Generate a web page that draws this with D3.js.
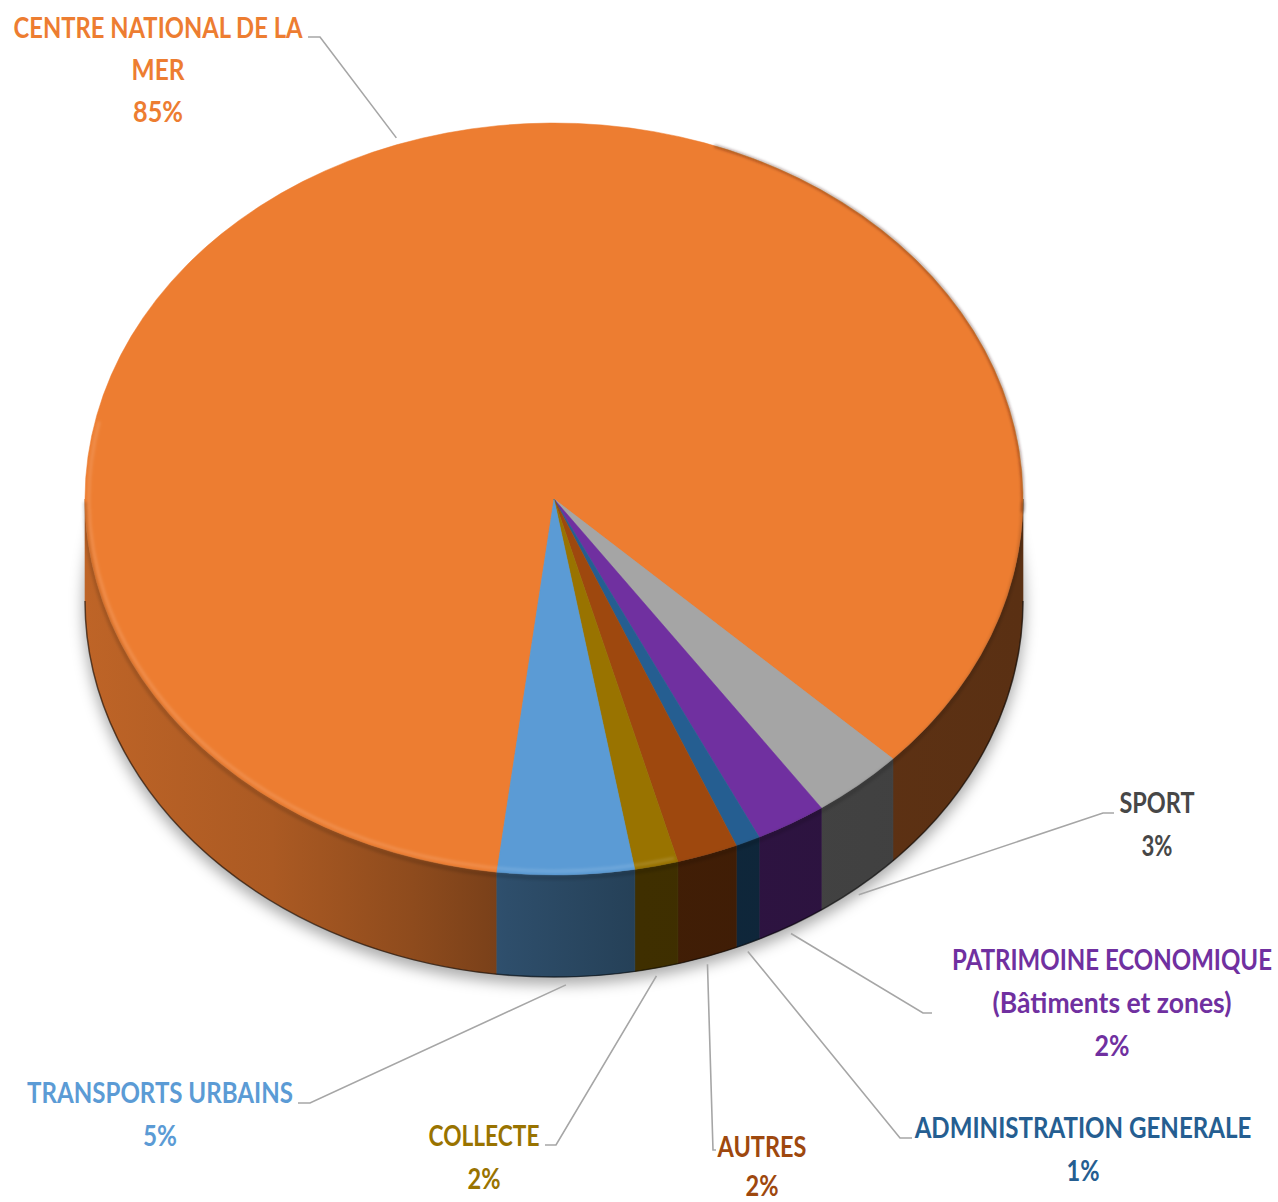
<!DOCTYPE html>
<html>
<head>
<meta charset="utf-8">
<script src="https://cdn.jsdelivr.net/npm/d3@7"></script>
<style>
  html, body { margin: 0; padding: 0; background: #ffffff; }
  svg { display: block; }
  text { font-family: Lato, "Open Sans", "DejaVu Sans Condensed", sans-serif; font-weight: bold; }
</style>
</head>
<body>
<svg id="chart" width="1278" height="1202"></svg>
<script>
// ---------------- DATA ----------------
const categories = [
  "CENTRE NATIONAL DE LA MER",
  "SPORT",
  "PATRIMOINE ECONOMIQUE (Bâtiments et zones)",
  "ADMINISTRATION GENERALE",
  "AUTRES",
  "COLLECTE",
  "TRANSPORTS URBAINS"
];
const labelLines = [
  ["CENTRE NATIONAL DE LA", "MER"],
  ["SPORT"],
  ["PATRIMOINE ECONOMIQUE", "(Bâtiments et zones)"],
  ["ADMINISTRATION GENERALE"],
  ["AUTRES"],
  ["COLLECTE"],
  ["TRANSPORTS URBAINS"]
];
const values = [85.2, 3.2, 2.45, 0.85, 2.1, 1.5, 4.7];
const sliceColors = ["#ED7D31", "#A5A5A5", "#7030A0", "#255E91", "#9E480E", "#997300", "#5B9BD5"];
const labelColors = ["#ED7D31", "#474747", "#7030A0", "#255E91", "#9E480E", "#997300", "#5B9BD5"];

// ---------------- LAYOUT ----------------
const cx = 554, cy = 499, rx = 469, ry = 376, depth = 102;
const rotationDeg = 187;
const labelLayout = [
  { x: 158,  y: 38,   lh: 42, widths: [289, 53, 50],  elbow: [320, 37],   stub: 308 },
  { x: 1157, y: 813,  lh: 43, widths: [75, 31],       elbow: [1103, 813], stub: 1114 },
  { x: 1112, y: 970,  lh: 43, widths: [320, 239, 35], elbow: [923, 1013], stub: 932 },
  { x: 1083, y: 1138, lh: 43, widths: [337, 33],      elbow: [900, 1138], stub: 912 },
  { x: 762,  y: 1157, lh: 39, widths: [89, 33],       elbow: [713, 1150], stub: 716 },
  { x: 484,  y: 1146, lh: 43, widths: [111, 33],      elbow: [556, 1145], stub: 545 },
  { x: 160,  y: 1103, lh: 43, widths: [266, 34],      elbow: [310, 1103], stub: 298 }
];

const svg = d3.select("#chart");
const defs = svg.append("defs");

const rot = rotationDeg * Math.PI / 180;
const pie = d3.pie().sort(null).value(d => d).startAngle(rot).endAngle(rot + 2 * Math.PI);
const arcs = pie(values);
const total = d3.sum(values);

const px = a => cx + rx * Math.sin(a);
const py = a => cy - ry * Math.cos(a);

// filters
const blur = defs.append("filter").attr("id", "shadowBlur").attr("x", "-20%").attr("y", "-20%").attr("width", "140%").attr("height", "140%");
blur.append("feGaussianBlur").attr("stdDeviation", 7);
const soft = defs.append("filter").attr("id", "soft").attr("x", "-10%").attr("y", "-10%").attr("width", "120%").attr("height", "120%");
soft.append("feGaussianBlur").attr("stdDeviation", 1.4);

// side gradients per slice (horizontal shading)
const shadeStops = [[0, 0.80], [0.2, 0.72], [0.35, 0.60], [0.45, 0.50], [0.59, 0.41], [1, 0.38]];
sliceColors.forEach((c, i) => {
  const g = defs.append("linearGradient").attr("id", "side" + i)
    .attr("gradientUnits", "userSpaceOnUse")
    .attr("x1", cx - rx).attr("x2", cx + rx).attr("y1", 0).attr("y2", 0);
  const base = d3.rgb(c);
  shadeStops.forEach(([o, f]) => {
    g.append("stop").attr("offset", o)
      .attr("stop-color", d3.rgb(base.r * f, base.g * f, base.b * f).formatHex());
  });
});

// drop shadow under the pie
svg.append("ellipse")
  .attr("cx", cx).attr("cy", cy + depth + 6).attr("rx", rx + 2).attr("ry", ry + 2)
  .attr("fill", "rgba(0,0,0,0.32)")
  .attr("filter", "url(#shadowBlur)");

// side walls: portion of each slice between 90° and 270° (front half)
const gSide = svg.append("g");
arcs.forEach((d, i) => {
  [0, 2 * Math.PI].forEach(off => {
    const lo = Math.max(d.startAngle, Math.PI / 2 + off);
    const hi = Math.min(d.endAngle, 3 * Math.PI / 2 + off);
    if (hi - lo <= 1e-6) return;
    const p = `M${px(lo)},${py(lo)} A${rx},${ry} 0 0 1 ${px(hi)},${py(hi)}
      L${px(hi)},${py(hi) + depth} A${rx},${ry} 0 0 0 ${px(lo)},${py(lo) + depth} Z`;
    gSide.append("path").attr("d", p).attr("fill", `url(#side${i})`)
      .attr("stroke", `url(#side${i})`).attr("stroke-width", 0.6);
  });
});
// dark bottom edge
svg.append("path")
  .attr("d", `M${px(Math.PI / 2)},${py(Math.PI / 2) + depth} A${rx},${ry} 0 0 1 ${px(3 * Math.PI / 2)},${py(3 * Math.PI / 2) + depth}`)
  .attr("fill", "none").attr("stroke", "rgba(0,0,0,0.55)").attr("stroke-width", 1.5);

// top faces
const gTop = svg.append("g");
arcs.forEach((d, i) => {
  const large = (d.endAngle - d.startAngle) > Math.PI ? 1 : 0;
  const p = `M${cx},${cy} L${px(d.startAngle)},${py(d.startAngle)}
    A${rx},${ry} 0 ${large} 1 ${px(d.endAngle)},${py(d.endAngle)} Z`;
  gTop.append("path").attr("d", p).attr("fill", sliceColors[i])
    .attr("stroke", sliceColors[i]).attr("stroke-width", 0.5);
});

// bevel highlight along front/left rim
const hrx = rx - 4, hry = ry - 4;
const hx = a => cx + hrx * Math.sin(a), hy = a => cy - hry * Math.cos(a);
const hA0 = 165 * Math.PI / 180, hA1 = 282 * Math.PI / 180;
svg.append("path")
  .attr("d", `M${hx(hA0)},${hy(hA0)} A${hrx},${hry} 0 0 1 ${hx(hA1)},${hy(hA1)}`)
  .attr("fill", "none").attr("stroke", "rgba(255,255,255,0.16)").attr("stroke-width", 2.5)
  .attr("filter", "url(#soft)");
// darker rim on the upper right
const dA0 = 20 * Math.PI / 180, dA1 = 92 * Math.PI / 180;
svg.append("path")
  .attr("d", `M${px(dA0)},${py(dA0)} A${rx},${ry} 0 0 1 ${px(dA1)},${py(dA1)}`)
  .attr("fill", "none").attr("stroke", "rgba(60,25,0,0.45)").attr("stroke-width", 2.5)
  .attr("filter", "url(#soft)");
// soft transition band between top and side on the front
svg.append("path")
  .attr("d", `M${px(Math.PI / 2)},${py(Math.PI / 2) + 3} A${rx},${ry} 0 0 1 ${px(3 * Math.PI / 2)},${py(3 * Math.PI / 2) + 3}`)
  .attr("fill", "none").attr("stroke", "rgba(0,0,0,0.15)").attr("stroke-width", 4)
  .attr("filter", "url(#soft)");

// leader lines and labels
const gLab = svg.append("g");
arcs.forEach((d, i) => {
  const m = (d.startAngle + d.endAngle) / 2;
  const front = Math.cos(m) < 0;
  const ax = px(m);
  const ay = front ? py(m) + depth + 8 : py(m) - 7;
  const L = labelLayout[i];
  gLab.append("polyline")
    .attr("points", `${ax},${ay} ${L.elbow[0]},${L.elbow[1]} ${L.stub},${L.elbow[1]}`)
    .attr("fill", "none").attr("stroke", "#A6A6A6").attr("stroke-width", 1.6);

  const pct = Math.round(d.data / total * 100) + "%";
  const lines = labelLines[i].concat([pct]);
  lines.forEach((t, j) => {
    const g = gLab.append("g");
    const txt = g.append("text")
      .attr("x", 0).attr("y", 0)
      .attr("text-anchor", "middle")
      .attr("font-size", 28)
      .attr("fill", labelColors[i])
      .text(t);
    const natural = txt.node().getComputedTextLength() || L.widths[j];
    const sx = L.widths[j] / natural;
    g.attr("transform", `translate(${L.x},${L.y + j * L.lh}) scale(${sx},1)`);
  });
});
</script>
</body>
</html>
